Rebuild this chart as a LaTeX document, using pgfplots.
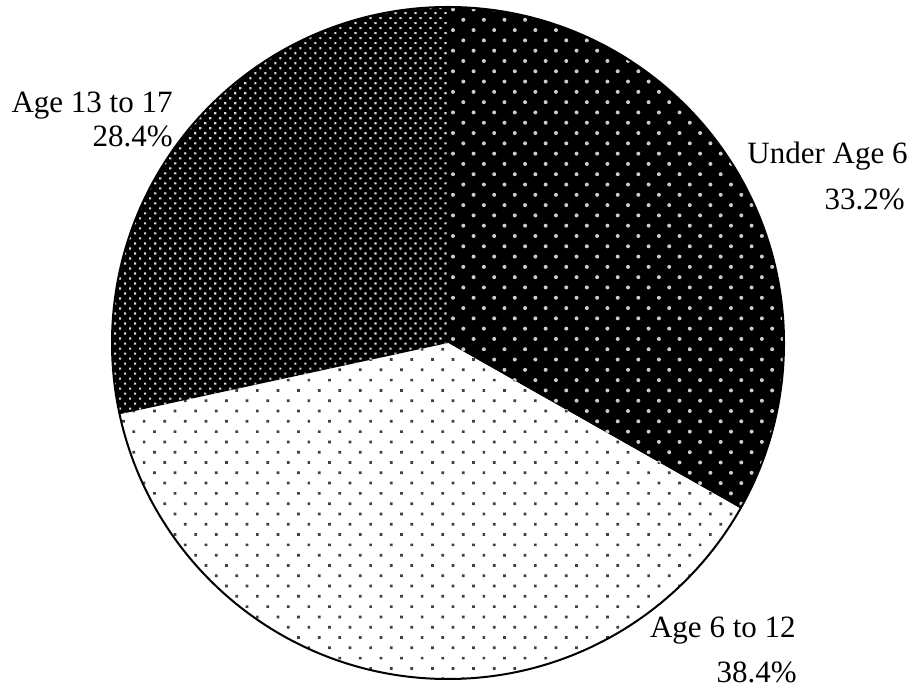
\documentclass[border=0pt]{standalone}
\usepackage{fontspec}
\setmainfont{Liberation Serif}
\usepackage{pgfplots}
\usepackage{pgfplotstable}
\pgfplotsset{compat=1.18}
\usetikzlibrary{patterns.meta}

% share of children by age group, in percent
\pgfplotstableread[col sep=comma]{
label,value
Under Age 6,33.2
Age 6 to 12,38.4
Age 13 to 17,28.4
}\piedata

\begin{document}
\begin{tikzpicture}
\pgfplotstablegetelem{0}{value}\of\piedata
\pgfmathsetmacro\aA{90-3.6*\pgfplotsretval}
\pgfplotstablegetelem{1}{value}\of\piedata
\pgfmathsetmacro\aB{\aA-3.6*\pgfplotsretval}
\pgfplotstablegetelem{2}{value}\of\piedata
\pgfmathsetmacro\aC{\aB-3.6*\pgfplotsretval}
\useasboundingbox (0,0) rectangle (459.5bp,344.5bp);
\begin{axis}[
  hide axis, scale only axis,
  width=459.5bp, height=344.5bp,
  xmin=0, xmax=459.5, ymin=0, ymax=344.5,
  clip=false]
\addplot[draw=none] coordinates {(0,0)};
% Under Age 6
\path[preaction={fill=black},
  pattern={Dots[distance=7.28bp, angle=45, radius=1bp]}, pattern color=white!80!black]
  (axis cs:224,173) -- ++(90:168bp) arc[start angle=90, end angle=\aA, radius=168bp] -- cycle;
% Age 6 to 12
\path[preaction={fill=white},
  pattern={Dots[distance=7.28bp, angle=45, radius=0.95bp]}, pattern color=black!75]
  (axis cs:224,173) -- ++(\aA:168bp) arc[start angle=\aA, end angle=\aB, radius=168bp] -- cycle;
% Age 13 to 17
\path[preaction={fill=black},
  pattern={Dots[distance=3.54bp, angle=45, radius=0.75bp]}, pattern color=white!85!black]
  (axis cs:224,173) -- ++(\aB:168bp) arc[start angle=\aB, end angle=\aC, radius=168bp] -- cycle;
\draw[line width=1bp] (axis cs:224,173) circle[radius=168bp];
% labels
\begin{scope}[every node/.style={anchor=base east, inner sep=0pt,
    font=\fontsize{15.5bp}{18bp}\selectfont}]
\node at (axis cs:454,262.5) {Under Age 6};
\node at (axis cs:452.5,239.5) {33.2\%};
\node at (axis cs:86.5,288) {Age 13 to 17};
\node at (axis cs:86.5,271) {28.4\%};
\node at (axis cs:398,26) {Age 6 to 12};
\node at (axis cs:398.5,3.5) {38.4\%};
\end{scope}
\end{axis}
\end{tikzpicture}
\end{document}
